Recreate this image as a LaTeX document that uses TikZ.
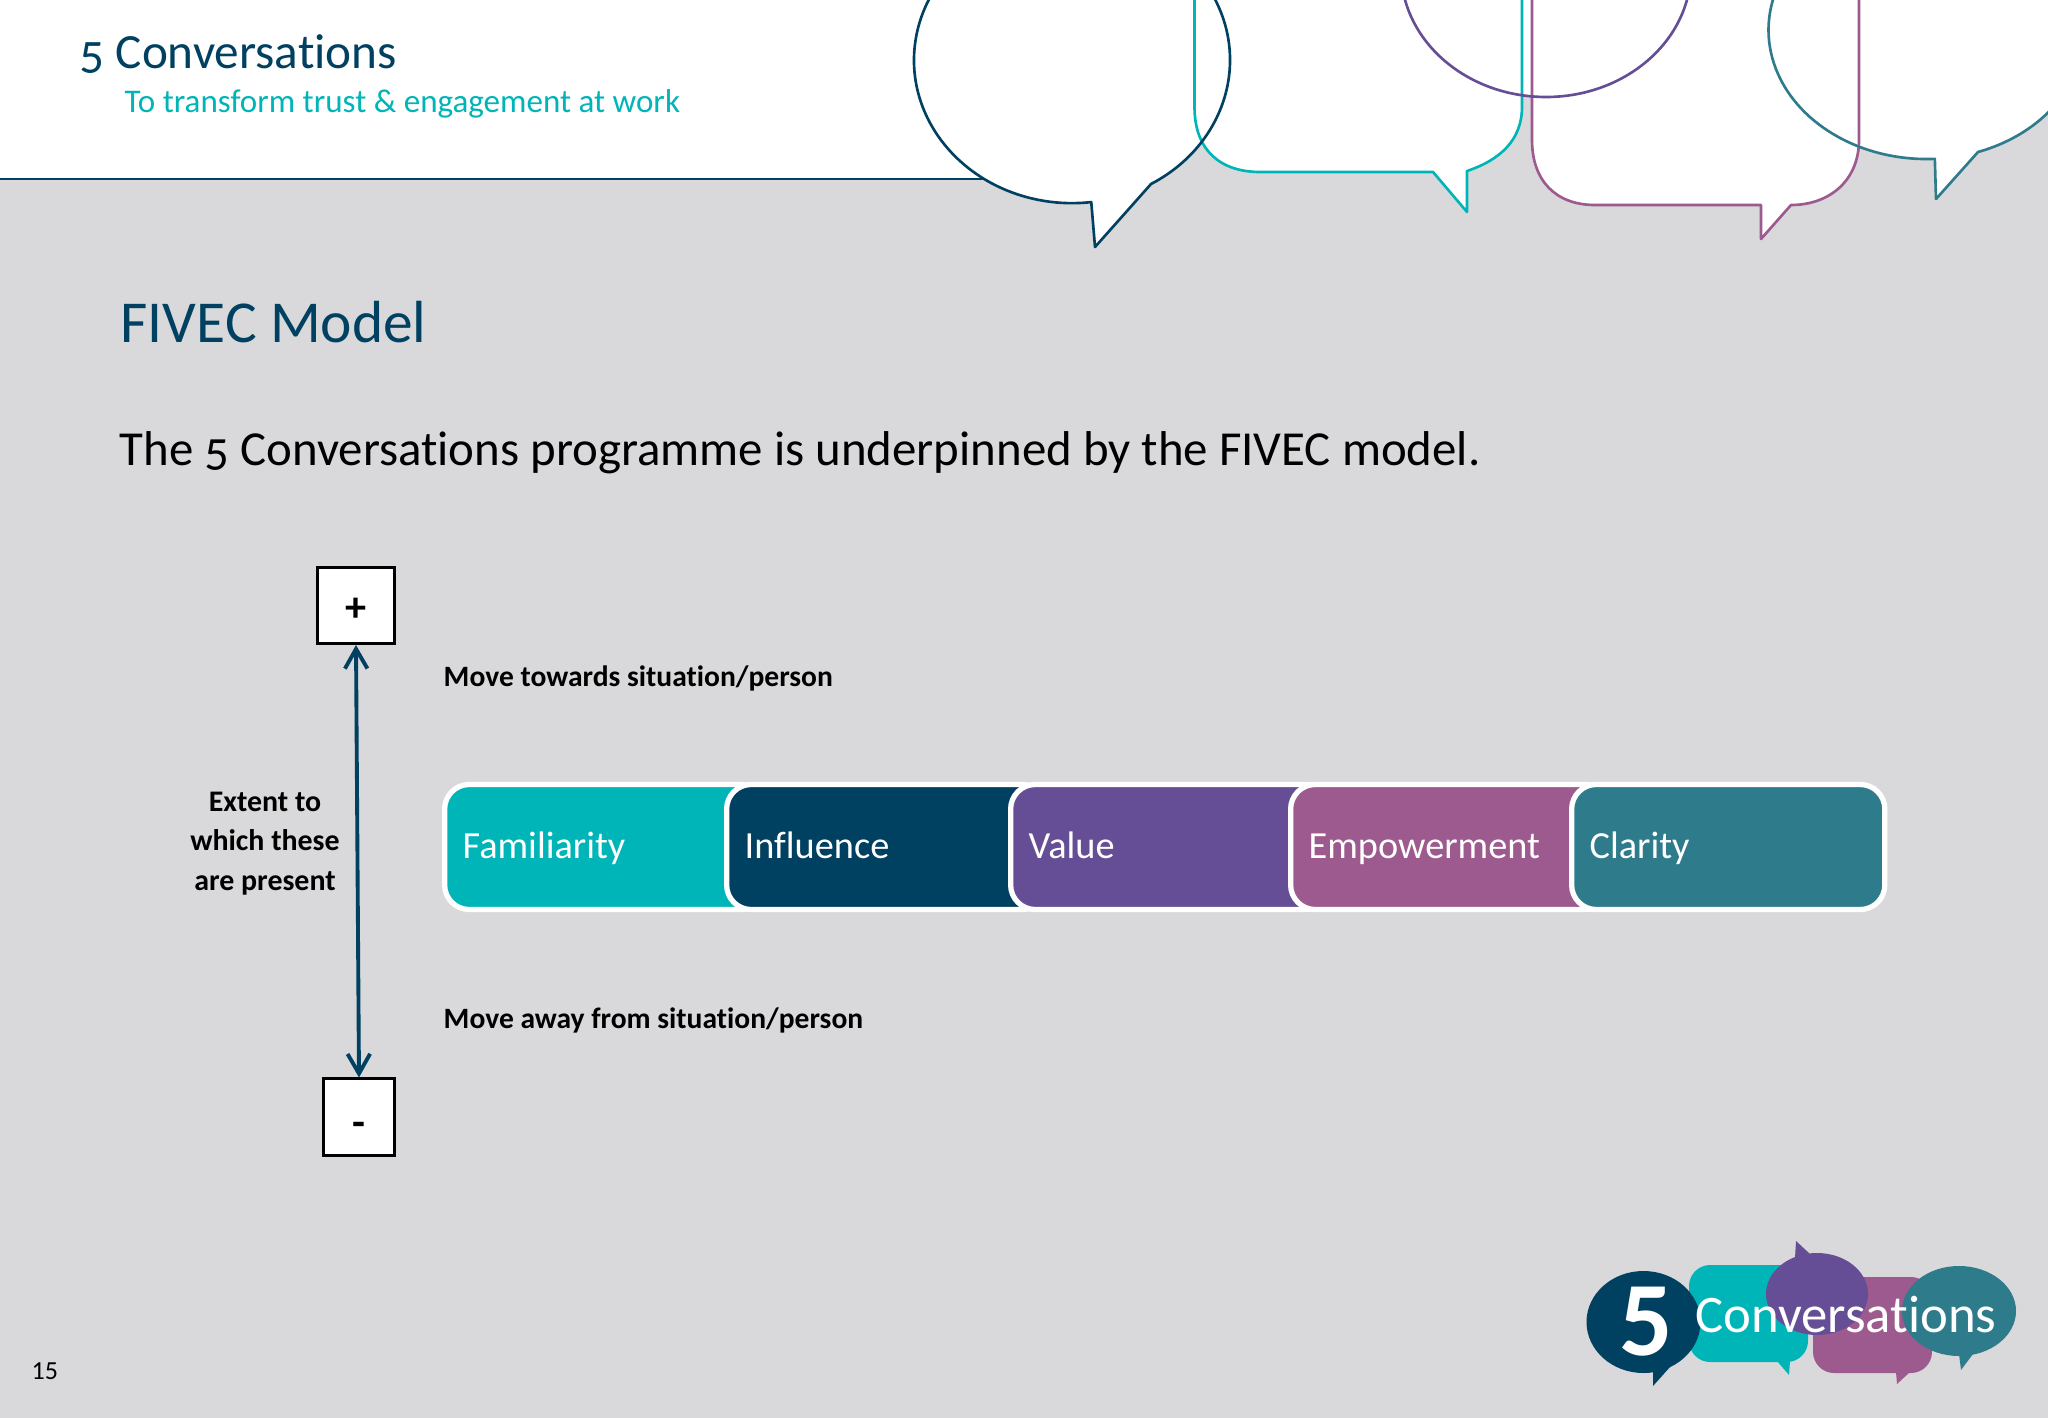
\documentclass[tikz,border=0pt]{standalone}
\usepackage{fontspec}
\setmainfont[Numbers=OldStyle,Ligatures=NoCommon]{Carlito}
\usetikzlibrary{arrows.meta, positioning}
\newcommand{\fs}[2]{\fontsize{#1}{#2}\selectfont}
\definecolor{bgrey}{HTML}{D9D8DA}
\definecolor{cnavy}{HTML}{004060}
\definecolor{cteal}{HTML}{00B5B8}
\definecolor{cpurple}{HTML}{654E96}
\definecolor{cmauve}{HTML}{9D5A8E}
\definecolor{cblue}{HTML}{2E7B8C}
\newcommand{\navypath}{(1151,184) arc[start angle=60,end angle=-277,x radius=158,y radius=143] -- (1095,247) -- cycle}
\newcommand{\tealpath}{(1194.5,-5) -- (1194.5,107) .. controls (1194.5,150) and (1220,172) .. (1260,172) -- (1433,172) -- (1467,212) -- (1467,171) .. controls (1500,160) and (1522,140) .. (1522,107) -- (1522,-5) -- cycle}
\newcommand{\mauvepath}{(1532,-5) -- (1532,140) .. controls (1532,180) and (1555,205) .. (1595,205) -- (1761,205) -- (1761,239) -- (1791,205) .. controls (1830,205) and (1859,180) .. (1859,140) -- (1859,-5) -- cycle}
\newcommand{\bluepath}{(1978,152) arc[start angle=71,end angle=-273,x radius=158,y radius=129] -- (1936,199) -- cycle}
\tikzset{
    bubble/.style={line width=0.75pt, line join=round},
    signbox/.style={draw=black, fill=white, line width=0.85pt, minimum height=0.76cm, inner sep=0pt, font=\bfseries\fs{12}{14}},
    note/.style={anchor=base west, inner sep=0pt, font=\bfseries\fs{8.4}{11}},
    segment/.style={draw=white, line width=1.5pt, rounded corners=7pt, anchor=west, minimum height=1.25cm, text=white, align=left, inner xsep=0.18cm, text height=8.6pt, text depth=2pt, font=\fs{10.9}{12}},
    logotext/.style={text=white, inner sep=0pt}
}
\begin{document}
\begin{tikzpicture}[x=0.01cm, y=-0.01cm]
    \useasboundingbox (0,0) rectangle (2048,1418);
    \clip (0,0) rectangle (2048,1418);
    \fill[bgrey] (0,0) rectangle (2048,1418);
    % header band
    \fill[white] (0,0) rectangle (1000,179);
    \draw[cnavy, line width=0.75pt] (0,179) -- (985,179);
    \fill[white] \navypath;
    \fill[white] \tealpath;
    \fill[white] \mauvepath;
    \fill[white] \bluepath;
    \fill[white] (1546,-30) ellipse[x radius=145,y radius=127];
    \draw[bubble, cteal] \tealpath;
    \draw[bubble, cmauve] \mauvepath;
    \draw[bubble, cblue] \bluepath;
    \draw[bubble, cpurple] (1546,-30) ellipse[x radius=145,y radius=127];
    \draw[bubble, cnavy] \navypath;

    \node[anchor=base west, inner sep=0pt, text=cnavy, font=\fs{14}{15}] (brand) at (79,68) {5 Conversations};
    \node[anchor=base west, inner sep=0pt, text=cteal, font=\fs{9.4}{11}] (strap) at (124,112) {To transform trust \& engagement at work};
    \node[anchor=base west, inner sep=0pt, text=cnavy, font=\fs{16.9}{18}] (title) at (120,342) {FIVEC Model};
    \node[anchor=base west, inner sep=0pt, text=black, font=\fs{13.9}{15}] (intro) at (119,465.5) {The 5 Conversations programme is underpinned by the FIVEC model.};

    % scale on the left
    \node[signbox, minimum width=0.76cm] (plus) at (356,605.5) {\smash{\raisebox{-4.5pt}{+}}};
    \node[signbox, minimum width=0.71cm] (minus) at (359,1117) {\smash{\raisebox{-5.6pt}{-}}};
    \draw[cnavy, line width=1.1pt, {Straight Barb[length=5.6pt,width=6.4pt]}-{Straight Barb[length=5.6pt,width=6.4pt]}] (plus.south) -- (minus.north);
    \node[inner sep=0pt, align=center, font=\bfseries\fs{8.5}{11.24}] (extent) at (265,843.5) {Extent to\\which these\\are present};
    \node[note] (towards) at (443,686) {Move towards situation/person};
    \node[note] (away) at (443,1028) {Move away from situation/person};

    % the five segments
    \node[segment, fill=cteal, minimum width=3.2cm, text width=2.84cm] (familiarity) at (442,847) {Familiarity};
    \node[segment, fill=cnavy, minimum width=3.2cm, text width=2.84cm] (influence) at (724,847) {Influence};
    \node[segment, fill=cpurple, minimum width=3.2cm, text width=2.84cm] (value) at (1008,847) {Value};
    \node[segment, fill=cmauve, minimum width=3.2cm, text width=2.84cm] (empower) at (1288,847) {Empowerment};
    \node[segment, fill=cblue, minimum width=3.13cm, text width=2.77cm] (clarity) at (1569,847) {Clarity};

    \node[anchor=base west, inner sep=0pt, text=black, font=\fs{7.4}{8}\addfontfeature{Numbers=Lining}] (pageno) at (31,1379) {15};

    % logo
    \fill[cteal, rounded corners=6pt] (1689,1265) rectangle (1808,1362);
    \fill[cteal] (1777,1361) -- (1789,1375) -- (1790,1361) -- cycle;
    \fill[cmauve, rounded corners=6pt] (1813,1277) rectangle (1932,1373);
    \fill[cmauve] (1896,1372) -- (1897,1384) -- (1910,1372) -- cycle;
    \fill[cpurple] (1817,1294) ellipse[x radius=51,y radius=41];
    \fill[cpurple] (1795,1258) -- (1796,1241) -- (1810,1254) -- cycle;
    \fill[cblue] (1959,1311) ellipse[x radius=57,y radius=45];
    \fill[cblue] (1959,1354) -- (1961,1370) -- (1973,1354) -- cycle;
    \fill[cnavy] (1643.5,1322) ellipse[x radius=57,y radius=51];
    \fill[cnavy] (1653,1371) -- (1653,1386) -- (1670,1367) -- cycle;
    \node[logotext, font=\bfseries\fs{30}{31}\addfontfeature{Numbers=Lining}] (logofive) at (1646,1322) {5};
    \node[logotext, font=\fs{15}{16}] (logoname) at (1846,1315) {Conversations};
\end{tikzpicture}
\end{document}
